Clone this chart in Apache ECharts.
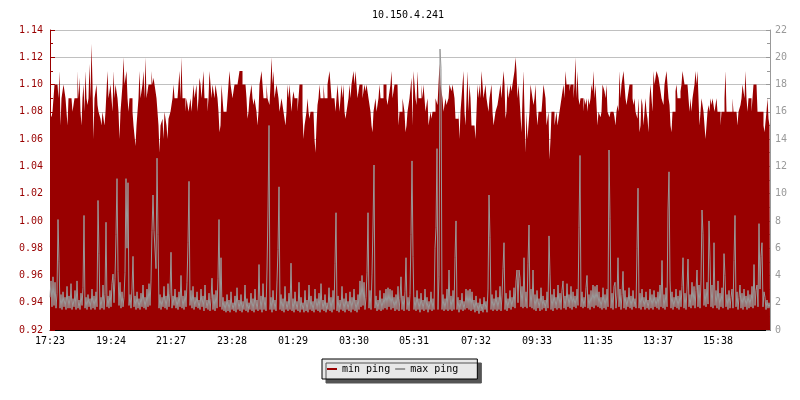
<!DOCTYPE html>
<html><head><meta charset="utf-8">
<script src="https://cdn.jsdelivr.net/npm/echarts@6/dist/echarts.min.js"></script>
<style>html,body{margin:0;padding:0;background:#fff}#c{width:800px;height:400px}</style>
</head><body><div id="c"></div>
<script>
const chartTitle = '10.150.4.241';
const tickLabels = ['17:23','19:24','21:27','23:28','01:29','03:30','05:31','07:32','09:33','11:35','13:37','15:38'];
const tickIndex = [0,61,121,182,243,304,364,426,487,548,608,668];
const seriesNames = ['min ping','max ping'];

const minPing = [
1.08,1.08,1.076,1.08,1.08,1.10,1.10,1.10,1.10,1.09,1.11,1.07,1.09,1.09,1.10,1.10,1.09,1.09,1.07,1.09,
1.09,1.09,1.09,1.08,1.08,1.09,1.09,1.09,1.11,1.09,1.105,1.08,1.07,1.09,1.10,1.08,1.11,1.09,1.085,1.09,
1.115,1.09,1.13,1.10,1.06,1.09,1.095,1.10,1.085,1.08,1.08,1.075,1.07,1.08,1.075,1.07,1.08,1.08,1.11,1.09,
1.09,1.10,1.09,1.08,1.11,1.09,1.10,1.10,1.09,1.08,1.06,1.08,1.09,1.10,1.12,1.10,1.105,1.11,1.09,1.08,
1.09,1.09,1.09,1.08,1.07,1.07,1.055,1.07,1.08,1.09,1.11,1.09,1.095,1.10,1.11,1.09,1.12,1.09,1.09,1.10,
1.10,1.10,1.11,1.10,1.105,1.10,1.095,1.09,1.09,1.07,1.05,1.07,1.07,1.075,1.06,1.08,1.08,1.07,1.06,1.075,
1.075,1.08,1.08,1.09,1.10,1.09,1.09,1.09,1.09,1.10,1.11,1.09,1.12,1.09,1.09,1.09,1.08,1.09,1.09,1.08,
1.08,1.09,1.08,1.09,1.10,1.09,1.09,1.10,1.08,1.09,1.105,1.10,1.09,1.09,1.11,1.09,1.09,1.09,1.08,1.09,
1.11,1.10,1.09,1.10,1.10,1.09,1.10,1.10,1.09,1.08,1.065,1.07,1.10,1.09,1.08,1.08,1.08,1.08,1.09,1.10,
1.11,1.10,1.10,1.09,1.095,1.10,1.10,1.10,1.10,1.10,1.11,1.11,1.11,1.10,1.10,1.10,1.10,1.09,1.075,1.08,
1.09,1.09,1.10,1.09,1.085,1.09,1.09,1.08,1.07,1.08,1.10,1.10,1.11,1.10,1.09,1.09,1.09,1.10,1.09,1.09,
1.085,1.10,1.12,1.10,1.11,1.09,1.095,1.10,1.10,1.09,1.08,1.08,1.09,1.09,1.08,1.08,1.07,1.08,1.10,1.09,
1.10,1.10,1.08,1.09,1.095,1.09,1.09,1.09,1.08,1.09,1.10,1.10,1.10,1.08,1.06,1.07,1.075,1.08,1.09,1.08,
1.075,1.08,1.08,1.08,1.08,1.06,1.05,1.07,1.085,1.09,1.10,1.09,1.09,1.09,1.10,1.09,1.09,1.09,1.10,1.10,
1.11,1.10,1.09,1.09,1.09,1.09,1.08,1.09,1.10,1.09,1.08,1.09,1.10,1.09,1.10,1.08,1.075,1.08,1.08,1.09,
1.10,1.09,1.10,1.10,1.11,1.10,1.11,1.10,1.09,1.09,1.10,1.10,1.10,1.09,1.09,1.10,1.095,1.10,1.10,1.09,
1.09,1.08,1.07,1.065,1.08,1.08,1.09,1.08,1.08,1.09,1.10,1.09,1.09,1.09,1.10,1.10,1.10,1.09,1.085,1.09,
1.09,1.10,1.11,1.09,1.09,1.10,1.10,1.10,1.10,1.07,1.08,1.08,1.08,1.09,1.085,1.08,1.065,1.07,1.08,1.08,
1.09,1.09,1.105,1.07,1.11,1.10,1.09,1.085,1.11,1.09,1.09,1.09,1.10,1.09,1.10,1.09,1.08,1.08,1.09,1.07,
1.07,1.08,1.075,1.08,1.08,1.08,1.09,1.09,1.085,1.085,1.115,1.10,1.10,1.09,1.08,1.08,1.09,1.085,1.085,1.09,
1.10,1.10,1.095,1.10,1.10,1.09,1.075,1.075,1.075,1.08,1.06,1.08,1.09,1.09,1.11,1.08,1.07,1.07,1.11,1.08,
1.10,1.09,1.07,1.07,1.07,1.07,1.06,1.08,1.10,1.09,1.10,1.09,1.11,1.10,1.09,1.09,1.10,1.09,1.09,1.08,
1.09,1.09,1.10,1.08,1.07,1.075,1.08,1.08,1.085,1.09,1.095,1.10,1.09,1.09,1.11,1.10,1.075,1.08,1.10,1.09,
1.09,1.10,1.095,1.10,1.10,1.11,1.12,1.11,1.09,1.10,1.09,1.09,1.065,1.09,1.11,1.08,1.05,1.08,1.06,1.06,
1.08,1.10,1.095,1.09,1.085,1.09,1.10,1.08,1.07,1.08,1.08,1.08,1.08,1.09,1.10,1.10,1.09,1.07,1.075,1.08,
1.045,1.06,1.08,1.08,1.08,1.07,1.075,1.08,1.07,1.07,1.08,1.08,1.09,1.09,1.10,1.09,1.11,1.10,1.10,1.10,
1.095,1.10,1.10,1.10,1.09,1.10,1.12,1.09,1.11,1.09,1.085,1.09,1.09,1.09,1.08,1.09,1.085,1.09,1.08,1.09,
1.085,1.09,1.10,1.095,1.11,1.09,1.10,1.10,1.07,1.08,1.08,1.076,1.08,1.10,1.10,1.095,1.09,1.10,1.08,1.08,
1.076,1.08,1.08,1.08,1.08,1.076,1.07,1.08,1.085,1.08,1.11,1.09,1.10,1.10,1.11,1.10,1.09,1.085,1.09,1.09,
1.10,1.10,1.10,1.09,1.085,1.09,1.08,1.08,1.075,1.09,1.065,1.07,1.09,1.085,1.07,1.08,1.09,1.08,1.075,1.065,
1.09,1.10,1.10,1.08,1.11,1.10,1.105,1.11,1.11,1.105,1.10,1.095,1.09,1.09,1.085,1.10,1.10,1.11,1.11,1.09,
1.085,1.07,1.065,1.08,1.08,1.08,1.095,1.10,1.09,1.09,1.09,1.095,1.10,1.11,1.105,1.10,1.10,1.10,1.10,1.09,
1.08,1.09,1.08,1.09,1.095,1.10,1.11,1.10,1.11,1.09,1.07,1.07,1.09,1.09,1.08,1.08,1.06,1.07,1.08,1.085,
1.08,1.09,1.085,1.09,1.085,1.08,1.085,1.09,1.08,1.08,1.08,1.07,1.08,1.08,1.08,1.09,1.11,1.08,1.08,1.08,
1.08,1.08,1.08,1.09,1.08,1.08,1.08,1.08,1.07,1.08,1.08,1.085,1.09,1.10,1.10,1.09,1.11,1.09,1.08,1.09,
1.09,1.09,1.08,1.09,1.10,1.10,1.10,1.10,1.08,1.08,1.08,1.08,1.08,1.08,1.07,1.065,1.065,1.08,1.09,1.075,
1.07
];

const maxPing = [
2.4,3.6,1.7,3.9,1.8,3.5,1.6,2.7,8.1,5.0,1.6,2.6,1.5,2.8,1.7,2.4,1.5,3.2,1.6,2.5,
1.6,3.4,1.5,2.3,1.7,2.9,1.5,3.6,1.6,2.2,1.5,2.7,1.8,3.1,8.4,1.6,2.4,1.5,2.6,1.7,
2.3,1.5,3.0,1.6,2.5,1.5,2.8,1.7,9.5,5.6,1.5,2.4,1.6,3.3,1.5,2.6,7.9,1.7,2.5,1.6,
2.9,1.7,3.4,4.1,2.0,3.8,7.0,11.1,4.3,1.8,3.5,1.6,2.8,1.7,2.4,4.2,11.1,6.0,10.8,1.8,
2.6,1.6,3.0,5.4,1.7,2.5,1.5,2.8,1.6,2.3,1.5,2.7,1.7,3.3,1.6,2.4,1.5,3.0,1.7,3.4,
1.8,3.6,7.3,9.9,7.3,7.3,4.5,12.6,7.0,1.6,2.6,1.5,2.4,1.7,3.2,1.6,2.5,1.5,3.4,1.7,
2.7,5.7,1.6,2.5,1.8,3.0,1.6,2.4,1.5,2.8,1.7,4.0,1.6,2.5,1.5,2.9,1.7,3.5,6.4,10.9,
1.8,2.9,1.6,3.2,1.5,2.4,1.7,2.8,1.6,2.2,1.5,3.0,1.7,2.5,1.4,3.3,1.6,2.2,1.5,2.7,
1.4,2.3,3.8,1.5,2.6,1.4,2.9,1.6,3.8,8.1,1.7,5.3,1.5,2.4,1.4,2.1,1.3,2.6,1.4,2.2,
1.3,2.8,1.5,2.0,1.4,2.5,1.3,3.1,1.5,2.2,1.4,2.6,1.3,2.1,1.5,3.3,1.4,2.3,1.3,2.0,
1.5,2.7,1.4,2.3,1.3,3.0,1.5,2.2,1.4,4.8,1.5,2.5,1.3,3.4,1.5,2.4,1.4,4.4,8.8,15.0,
1.5,2.4,1.3,2.9,1.5,2.2,1.4,3.6,5.9,10.5,1.5,2.6,1.4,2.3,1.3,3.2,1.5,2.1,1.4,2.7,
1.5,4.9,1.4,2.3,1.3,2.8,1.5,2.1,1.4,3.5,1.3,2.4,1.5,2.0,1.3,2.9,1.4,2.2,1.3,3.3,
1.5,2.5,1.4,2.1,1.3,3.0,1.5,2.3,1.4,2.7,1.3,3.4,1.5,2.2,1.4,2.6,1.3,2.0,1.5,3.1,
1.4,2.4,1.3,2.9,1.5,4.9,8.6,1.4,2.5,1.3,2.2,1.5,3.2,1.4,2.3,1.3,2.7,1.5,2.1,1.4,
2.8,1.3,2.4,1.5,3.0,1.4,2.2,1.3,2.6,1.5,3.6,1.7,4.0,1.8,3.5,1.5,2.4,4.2,8.6,1.6,
2.9,1.5,4.1,7.7,12.1,1.6,2.5,1.4,2.2,1.5,2.9,1.4,2.3,1.5,2.7,1.6,3.0,1.5,3.1,1.7,
3.0,1.5,2.9,1.6,2.4,1.4,2.6,1.5,3.2,1.4,2.3,3.9,1.5,2.5,1.4,2.8,5.3,1.5,2.4,1.4,
2.6,7.0,12.4,5.4,1.5,2.4,1.4,2.9,1.5,2.3,1.3,2.7,1.5,2.2,1.4,3.0,1.5,2.4,1.3,2.1,
1.5,2.8,1.4,2.3,1.5,6.0,7.5,13.3,1.5,3.9,20.6,19.2,1.5,2.6,1.4,2.3,1.5,3.0,1.4,4.4,
1.5,2.5,1.4,2.9,1.5,5.3,8.0,1.5,2.4,1.3,2.2,1.5,2.7,1.4,2.1,1.5,3.0,1.6,2.9,1.5,
3.0,1.4,2.8,1.5,2.2,1.3,2.5,1.4,2.0,1.2,2.3,1.4,1.9,1.3,2.4,1.5,2.1,1.3,3.0,9.9,
6.8,1.5,2.6,1.4,2.3,1.5,2.9,1.4,2.4,1.5,3.2,1.4,2.5,4.5,6.4,1.5,2.7,1.4,2.3,1.6,
2.9,1.5,2.4,1.7,3.1,1.6,3.6,4.4,2.0,4.4,3.8,1.7,3.2,1.6,5.3,1.7,2.8,1.6,4.9,7.7,
1.7,3.0,1.6,4.4,1.5,2.6,1.4,2.9,1.6,2.3,1.4,3.1,1.5,2.5,1.6,2.2,1.4,2.8,1.6,6.9,
4.1,1.5,2.6,1.4,3.0,1.6,2.4,1.5,3.3,1.6,2.7,1.5,2.9,3.6,1.6,2.5,1.5,3.4,1.7,2.6,
1.6,3.2,1.5,2.8,1.7,2.5,1.6,3.0,1.8,7.5,12.8,1.7,2.8,1.6,2.4,1.7,3.1,4.0,1.6,2.6,
1.5,2.9,1.7,3.3,1.6,3.2,1.8,3.3,1.7,2.8,1.6,2.4,1.5,3.1,1.6,2.6,1.5,3.0,1.7,13.2,
8.2,1.6,2.7,1.5,3.2,3.5,1.6,2.5,5.3,1.7,3.0,1.5,2.6,4.3,1.6,2.9,1.5,2.4,1.7,3.1,
1.6,2.5,1.5,2.9,1.7,2.3,1.6,6.0,10.4,1.6,2.7,1.5,3.0,1.7,2.4,1.5,2.8,1.6,2.2,1.5,
3.0,1.6,2.6,1.5,2.9,1.7,2.4,1.6,2.8,1.5,3.3,1.7,5.1,1.6,2.6,1.5,3.1,1.7,8.8,11.6,
3.6,1.6,2.8,1.5,2.4,1.7,3.0,1.6,2.5,1.5,2.9,1.7,3.2,5.3,1.6,2.7,1.5,3.0,5.2,1.7,
2.6,1.6,3.5,1.8,3.2,1.6,2.9,4.4,1.7,3.3,1.6,3.6,8.8,7.1,1.8,3.0,1.7,3.5,1.9,8.0,
5.2,1.7,3.3,1.6,6.4,1.8,2.9,1.6,3.6,1.5,2.7,1.7,3.1,1.6,5.6,4.0,1.7,2.6,1.5,2.9,
1.6,2.4,3.0,1.6,5.1,8.4,1.7,2.8,1.5,2.4,3.3,1.6,2.7,1.5,3.0,1.7,2.5,1.5,2.9,1.6,
2.6,1.7,3.2,1.6,4.8,1.8,2.9,3.3,1.7,7.8,3.0,5.4,6.4,1.7,2.8,2.4,1.5,2.2,1.6,2.0,1.6
];

const categories = minPing.map((_, i) => String(i));
const FONT = '"DejaVu Sans Mono", monospace';
const RED = '#990000';
const GRAY = '#999999';
const isTick = (i) => tickIndex.indexOf(i) >= 0;

const chart = echarts.init(document.getElementById('c'), null, {renderer: 'canvas'});
chart.setOption({
  animation: false,
  backgroundColor: '#ffffff',
  title: {
    text: chartTitle, left: 403, top: 5, textAlign: 'center',
    textStyle: {fontFamily: FONT, fontSize: 10, fontWeight: 'normal', color: '#000'}
  },
  legend: {
    data: seriesNames, top: 359, left: 322, orient: 'horizontal',
    icon: 'rect', itemWidth: 10, itemHeight: 2, itemGap: 5,
    padding: [5, 19, 5, 5],
    backgroundColor: '#e8e8e8', borderColor: '#000', borderWidth: 1,
    shadowColor: '#555', shadowOffsetX: 4, shadowOffsetY: 4, shadowBlur: 0,
    textStyle: {fontFamily: FONT, fontSize: 10, color: '#000'}
  },
  grid: {left: 50, right: 30, top: 30, bottom: 70, containLabel: false, outerBoundsMode: 'none'},
  xAxis: {
    type: 'category', data: categories, boundaryGap: false,
    axisLine: {show: true, lineStyle: {color: '#000', width: 1}},
    axisTick: {show: true, inside: true, length: 5, interval: (i) => isTick(i), lineStyle: {color: '#000'}},
    axisLabel: {
      interval: (i) => isTick(i),
      formatter: (v, i) => tickLabels[tickIndex.indexOf(i)] || '',
      color: '#000', fontFamily: FONT, fontSize: 10, margin: 6
    },
    splitLine: {show: false}
  },
  yAxis: [
    {
      type: 'value', position: 'left', min: 0.92, max: 1.14, interval: 0.02,
      axisLine: {show: true, lineStyle: {color: RED}},
      axisTick: {show: true, inside: true, length: 5, lineStyle: {color: RED}},
      minorTick: {show: true, splitNumber: 2, length: 3, lineStyle: {color: RED}},
      axisLabel: {color: RED, fontFamily: FONT, fontSize: 10, margin: 7, formatter: (v) => v.toFixed(2)},
      splitLine: {show: true, lineStyle: {color: '#c0c0c0', width: 1}},
      minorSplitLine: {show: false}
    },
    {
      type: 'value', position: 'right', min: 0, max: 22, interval: 2,
      axisLine: {show: true, lineStyle: {color: GRAY}},
      axisTick: {show: true, inside: true, length: 4, lineStyle: {color: GRAY}},
      minorTick: {show: true, splitNumber: 2, length: 3, lineStyle: {color: GRAY}},
      axisLabel: {color: GRAY, fontFamily: FONT, fontSize: 10, margin: 5},
      splitLine: {show: false}
    }
  ],
  series: [
    {
      name: seriesNames[0], type: 'line', yAxisIndex: 0, data: minPing,
      step: 'middle', symbol: 'none', showSymbol: false,
      lineStyle: {width: 0, opacity: 0, color: RED}, itemStyle: {color: RED},
      areaStyle: {color: RED, opacity: 1, origin: 'start'}, z: 2
    },
    {
      name: seriesNames[1], type: 'line', yAxisIndex: 1, data: maxPing,
      symbol: 'none', showSymbol: false,
      lineStyle: {width: 1, color: GRAY}, itemStyle: {color: GRAY}, z: 3
    }
  ]
});
</script>
</body></html>
